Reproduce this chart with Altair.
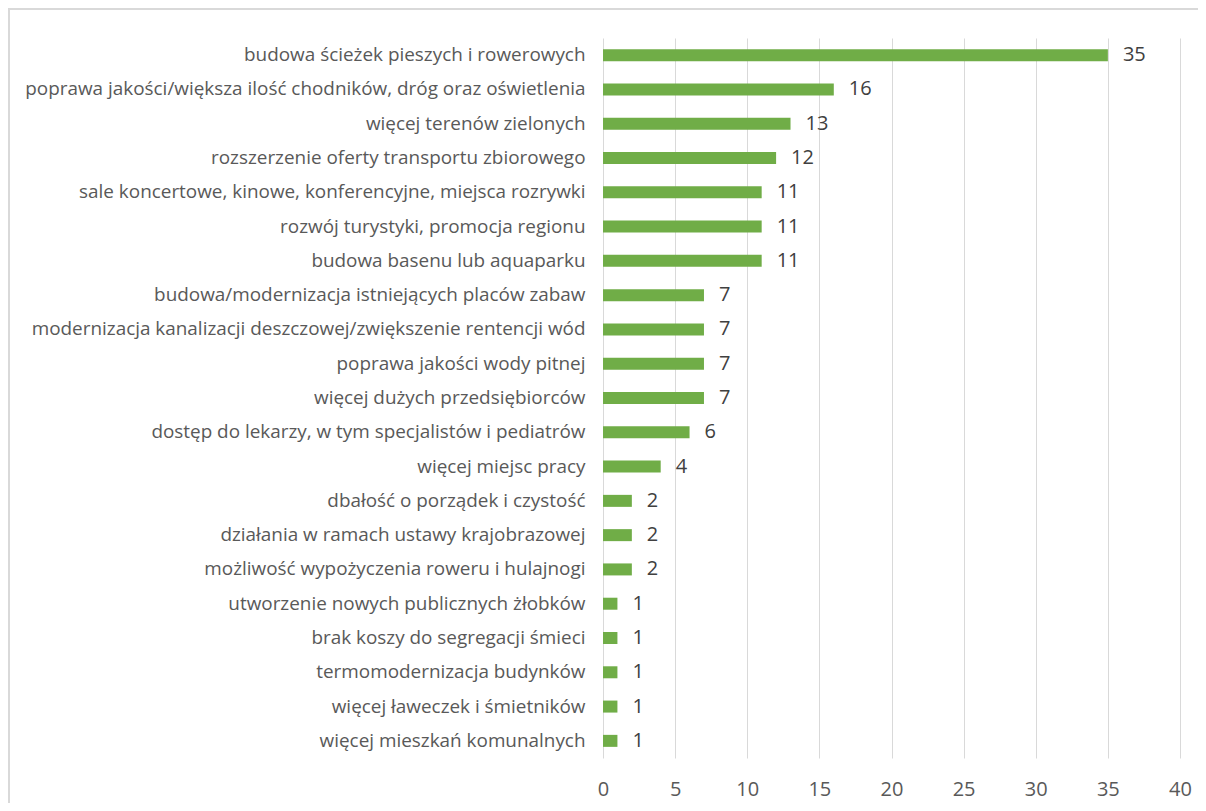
import altair as alt
import pandas as pd

categories = [
    "budowa ścieżek pieszych i rowerowych",
    "poprawa jakości/większa ilość chodników, dróg oraz oświetlenia",
    "więcej terenów zielonych",
    "rozszerzenie oferty transportu zbiorowego",
    "sale koncertowe, kinowe, konferencyjne, miejsca rozrywki",
    "rozwój turystyki, promocja regionu",
    "budowa basenu lub aquaparku",
    "budowa/modernizacja istniejących placów zabaw",
    "modernizacja kanalizacji deszczowej/zwiększenie rentencji wód",
    "poprawa jakości wody pitnej",
    "więcej dużych przedsiębiorców",
    "dostęp do lekarzy, w tym specjalistów i pediatrów",
    "więcej miejsc pracy",
    "dbałość o porządek i czystość",
    "działania w ramach ustawy krajobrazowej",
    "możliwość wypożyczenia roweru i hulajnogi",
    "utworzenie nowych publicznych żłobków",
    "brak koszy do segregacji śmieci",
    "termomodernizacja budynków",
    "więcej ławeczek i śmietników",
    "więcej mieszkań komunalnych",
]
values = [35, 16, 13, 12, 11, 11, 11, 7, 7, 7, 7, 6, 4, 2, 2, 2, 1, 1, 1, 1, 1]
x_ticks = [0, 5, 10, 15, 20, 25, 30, 35, 40]

df = pd.DataFrame({"kategoria": categories, "wartosc": values})

FONT = "Open Sans"
W, H = 577, 720

x_enc = alt.X(
    "wartosc:Q",
    scale=alt.Scale(domain=[0, 40], nice=False),
    axis=alt.Axis(
        values=x_ticks, grid=True, gridColor="#D9D9D9", gridWidth=1,
        domain=False, ticks=False, labelFont=FONT, labelFontSize=20,
        labelColor="#595959", labelPadding=21, title=None,
        labelFlush=False, labelOverlap=False,
    ),
)
y_enc = alt.Y(
    "kategoria:N",
    sort=categories,
    scale=alt.Scale(paddingInner=0.65, paddingOuter=0.325),
    axis=alt.Axis(
        domain=False, ticks=False, labelFont=FONT, labelFontSize=18.9,
        labelColor="#595959", labelPadding=18, title=None, labelLimit=800,
    ),
)

border = alt.Chart(df).mark_rect(
    fill="transparent", stroke="#D9D9D9", strokeWidth=1.3, clip=False
).encode(
    x=alt.value(-594), x2=alt.value(W + 40),
    y=alt.value(-29), y2=alt.value(H + 80),
)

bars = alt.Chart(df).mark_bar(color="#70AD47", size=12).encode(x=x_enc, y=y_enc)

labels = alt.Chart(df).mark_text(
    align="left", baseline="middle", dx=15, font=FONT, fontSize=20, color="#404040"
).encode(x="wartosc:Q", y=alt.Y("kategoria:N", sort=categories), text="wartosc:Q")

chart = alt.layer(border, bars, labels).properties(
    width=W, height=H,
    autosize=alt.AutoSizeParams(type="none"),
    padding={"left": 595, "top": 30, "right": 18, "bottom": 45},
).configure_view(stroke=None)

chart.save("out.html", embed_options={"renderer": "svg", "actions": False})
